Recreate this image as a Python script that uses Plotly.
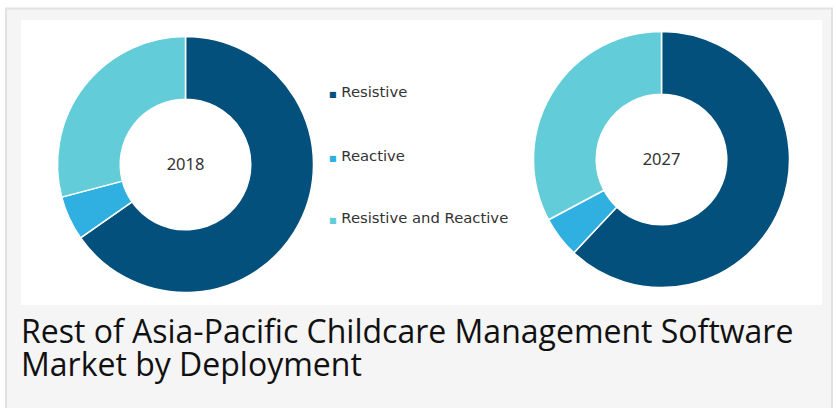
import plotly.graph_objects as go

labels = ["Resistive", "Reactive", "Resistive and Reactive"]
colors = ["#04507c", "#30b0e0", "#62cdd8"]
years = ["2018", "2027"]
share_2018 = [65.3, 5.6, 29.1]
share_2027 = [62.0, 5.2, 32.8]
title_lines = ["Rest of Asia-Pacific Childcare Management Software", "Market by Deployment"]

W, H = 836, 408
def px(x):
    return x / W
def py(y):
    return 1 - y / H

fig = go.Figure()

def donut(values, year, cx, cy, r):
    fig.add_trace(go.Pie(
        labels=labels, values=values, hole=0.51, sort=False,
        direction="clockwise", rotation=0,
        marker=dict(colors=colors, line=dict(color="white", width=1.5)),
        textinfo="none", hoverinfo="label+percent", showlegend=False,
        domain=dict(x=[px(cx - r), px(cx + r)], y=[py(cy + r), py(cy - r)]),
        title=dict(text=year, position="middle center",
                   font=dict(family="Noto Sans", size=16.5, color="#333333")),
    ))

donut(share_2018, years[0], 185.5, 164.5, 128)
donut(share_2027, years[1], 661.5, 159.5, 128)

shapes = [
    dict(type="rect", xref="paper", yref="paper", x0=px(6), x1=px(832), y0=py(420), y1=py(8.5),
         fillcolor="#f5f5f5", line=dict(color="#e2e2e2", width=2), layer="below"),
    dict(type="rect", xref="paper", yref="paper", x0=px(21), x1=px(822), y0=py(305), y1=py(20),
         fillcolor="white", line=dict(width=0), layer="below"),
]

annotations = []
legend_y = [92, 155, 217]
for lab, col, yy in zip(labels, colors, legend_y):
    annotations.append(dict(
        x=px(327), y=py(yy), xref="paper", yref="paper", xanchor="left", yanchor="middle",
        showarrow=False, align="left",
        text=f'<span style="color:{col};font-size:8px">■</span> {lab}',
        font=dict(family="DejaVu Sans", size=14.8, color="#333333"),
    ))

for i, line in enumerate(title_lines):
    annotations.append(dict(
        x=px(19), y=py(330 + 33 * i), xref="paper", yref="paper", xanchor="left", yanchor="middle",
        showarrow=False, align="left", text=line,
        font=dict(family="Open Sans", size=32, color="#111111"),
    ))

fig.update_layout(
    width=W, height=H, margin=dict(l=0, r=0, t=0, b=0),
    paper_bgcolor="white", plot_bgcolor="white",
    shapes=shapes, annotations=annotations,
)

fig.write_html("out.html", config={"displayModeBar": False},
               post_script="document.body.style.margin='0';document.body.style.padding='0';")
